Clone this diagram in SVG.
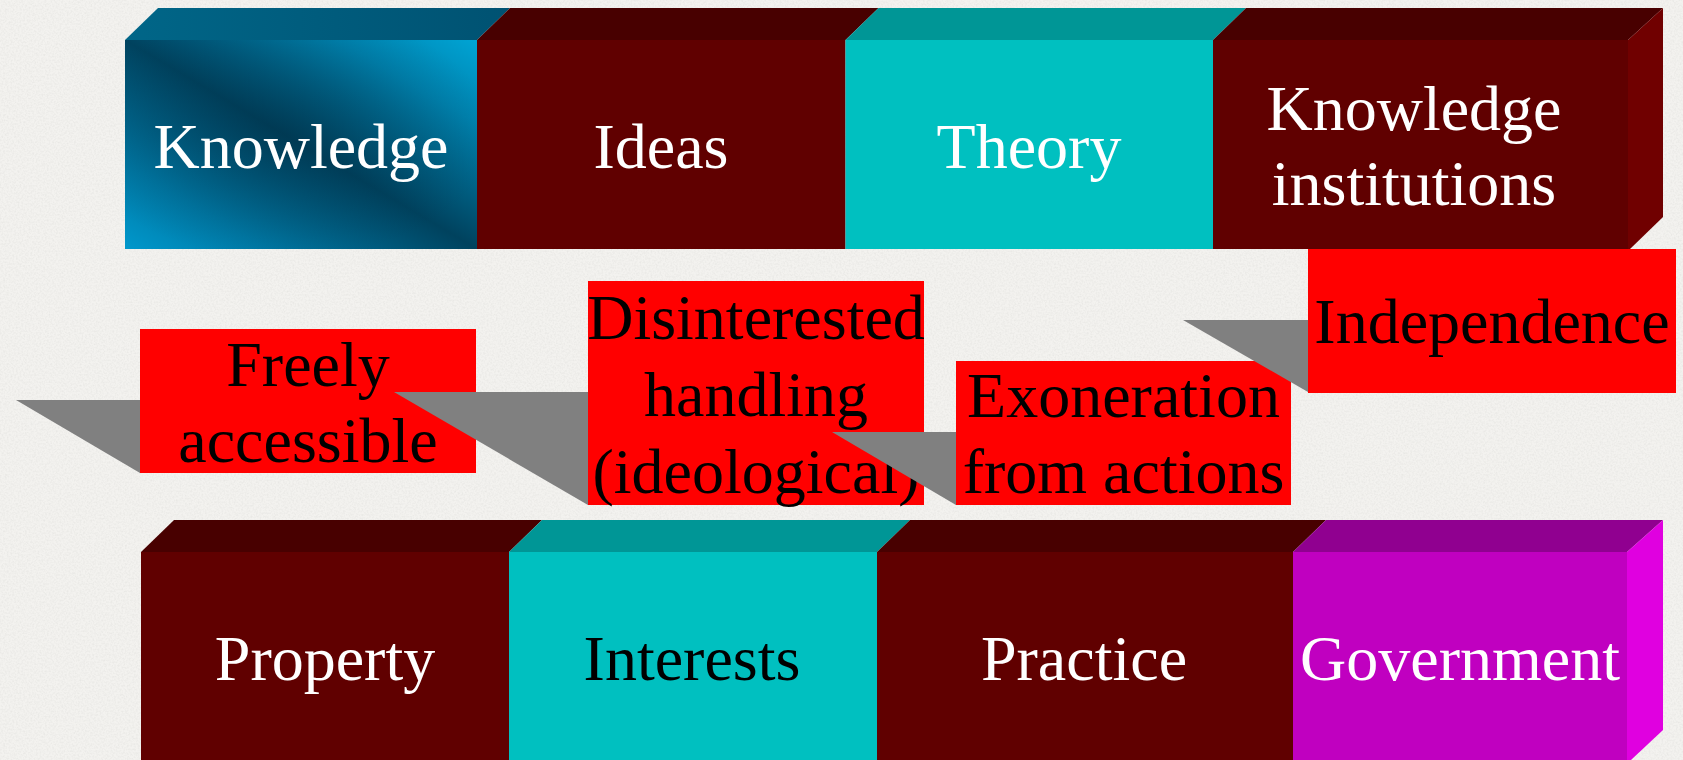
<svg xmlns="http://www.w3.org/2000/svg" width="1683" height="760" viewBox="0 0 1683 760">
  <defs>
    <linearGradient id="knowFront" x1="1" y1="0" x2="0" y2="1">
      <stop offset="0" stop-color="#00a4d4"/>
      <stop offset="0.2" stop-color="#0082ae"/>
      <stop offset="0.5" stop-color="#00425e"/>
      <stop offset="0.8" stop-color="#0078a4"/>
      <stop offset="1" stop-color="#0098cc"/>
    </linearGradient>
    <radialGradient id="knowShade" cx="0.45" cy="0.45" r="0.6">
      <stop offset="0" stop-color="#002a40" stop-opacity="0.35"/>
      <stop offset="1" stop-color="#002a40" stop-opacity="0"/>
    </radialGradient>
    <linearGradient id="knowTop" x1="0" y1="0" x2="1" y2="0">
      <stop offset="0" stop-color="#006688"/>
      <stop offset="1" stop-color="#005272"/>
    </linearGradient>
    <filter id="paper" x="0" y="0" width="100%" height="100%">
      <feTurbulence type="fractalNoise" baseFrequency="0.55" numOctaves="2" seed="3" result="n"/>
      <feColorMatrix type="matrix" values="0 0 0 0 0.55  0 0 0 0 0.55  0 0 0 0 0.53  0 0 0 -1.2 0.75" in="n"/>
    </filter>
    <style>
      .t { font-family: "Liberation Serif", "Times New Roman", serif; font-size: 64px; text-anchor: middle; }
      .w { fill: #ffffff; }
      .k { fill: #000000; }
      .mF { fill: #600000; }
      .mT { fill: #480000; }
      .mS { fill: #700000; }
      .cF { fill: #00c0c0; }
      .cT { fill: #009696; }
      .pF { fill: #c000c0; }
      .pT { fill: #900090; }
      .pS { fill: #e000e0; }
      .red { fill: #ff0000; }
      .sh { fill: #808080; }
    </style>
  </defs>

  <rect x="0" y="0" width="1683" height="760" fill="#f3f2ef"/>
  <rect x="0" y="0" width="1683" height="760" filter="url(#paper)" opacity="0.35"/>

  <!-- Top row -->
  <g id="knowledge">
    <polygon points="125,40 158,8 510,8 477,40" fill="url(#knowTop)"/>
    <rect x="125" y="40" width="352" height="209" fill="url(#knowFront)"/>
    <rect x="125" y="40" width="352" height="209" fill="url(#knowShade)"/>
    <text class="t w" x="301" y="168">Knowledge</text>
  </g>
  <g id="ideas">
    <polygon class="mT" points="477,40 510,8 878.5,8 845.5,40"/>
    <rect class="mF" x="477" y="40" width="368.5" height="209"/>
    <text class="t w" x="661" y="168">Ideas</text>
  </g>
  <g id="theory">
    <polygon class="cT" points="845.5,40 878.5,8 1246,8 1213,40"/>
    <rect class="cF" x="845.5" y="40" width="367.5" height="209"/>
    <text class="t w" x="1029" y="168">Theory</text>
  </g>
  <g id="knowledge-institutions">
    <polygon class="mT" points="1213,40 1246,8 1663,8 1628,40"/>
    <polygon class="mS" points="1628,40 1663,8 1663,217 1630,249 1628,249"/>
    <rect class="mF" x="1213" y="40" width="415" height="209"/>
    <text class="t w" x="1414" y="130">Knowledge</text>
    <text class="t w" x="1414" y="205">institutions</text>
  </g>

  <!-- Bottom row -->
  <g id="property">
    <polygon class="mT" points="141,552 174,520 542,520 509,552"/>
    <rect class="mF" x="141" y="552" width="368" height="208"/>
    <text class="t w" x="325" y="680">Property</text>
  </g>
  <g id="interests">
    <polygon class="cT" points="509,552 542,520 910,520 877,552"/>
    <rect class="cF" x="509" y="552" width="368" height="208"/>
    <text class="t k" x="692" y="680">Interests</text>
  </g>
  <g id="practice">
    <polygon class="mT" points="877,552 910,520 1326,520 1293,552"/>
    <rect class="mF" x="877" y="552" width="416" height="208"/>
    <text class="t w" x="1084" y="680">Practice</text>
  </g>
  <g id="government">
    <polygon class="pT" points="1293,552 1326,520 1663,520 1627,552"/>
    <polygon class="pS" points="1627,552 1663,520 1663,730 1631,760 1627,760"/>
    <rect class="pF" x="1293" y="552" width="334" height="208"/>
    <text class="t w" x="1460" y="680">Government</text>
  </g>

  <!-- Middle red labels with their grey drop shadows -->
  <g id="connectors"></g>
  <g id="freely-accessible">
    <polygon class="sh" points="16,400 140,400 140,473"/>
    <rect class="red" x="140" y="329" width="336" height="144"/>
    <text class="t k" x="308" y="386">Freely</text>
    <text class="t k" x="308" y="462">accessible</text>
  </g>
  <g id="disinterested-handling">
    <polygon class="sh" points="394,392 588,392 588,505"/>
    <rect class="red" x="588" y="281" width="336" height="224"/>
    <text class="t k" x="756" y="339">Disinterested</text>
    <text class="t k" x="756" y="416">handling</text>
    <text class="t k" x="756" y="493">(ideological)</text>
  </g>
  <g id="exoneration">
    <polygon class="sh" points="832,432 956,432 956,505"/>
    <rect class="red" x="956" y="361" width="335" height="144"/>
    <text class="t k" x="1123.5" y="417">Exoneration</text>
    <text class="t k" x="1123.5" y="493">from actions</text>
  </g>
  <g id="independence">
    <polygon class="sh" points="1183,320 1308,320 1308,392"/>
    <rect class="red" x="1308" y="249" width="368" height="144"/>
    <text class="t k" x="1492" y="343">Independence</text>
  </g>
</svg>
